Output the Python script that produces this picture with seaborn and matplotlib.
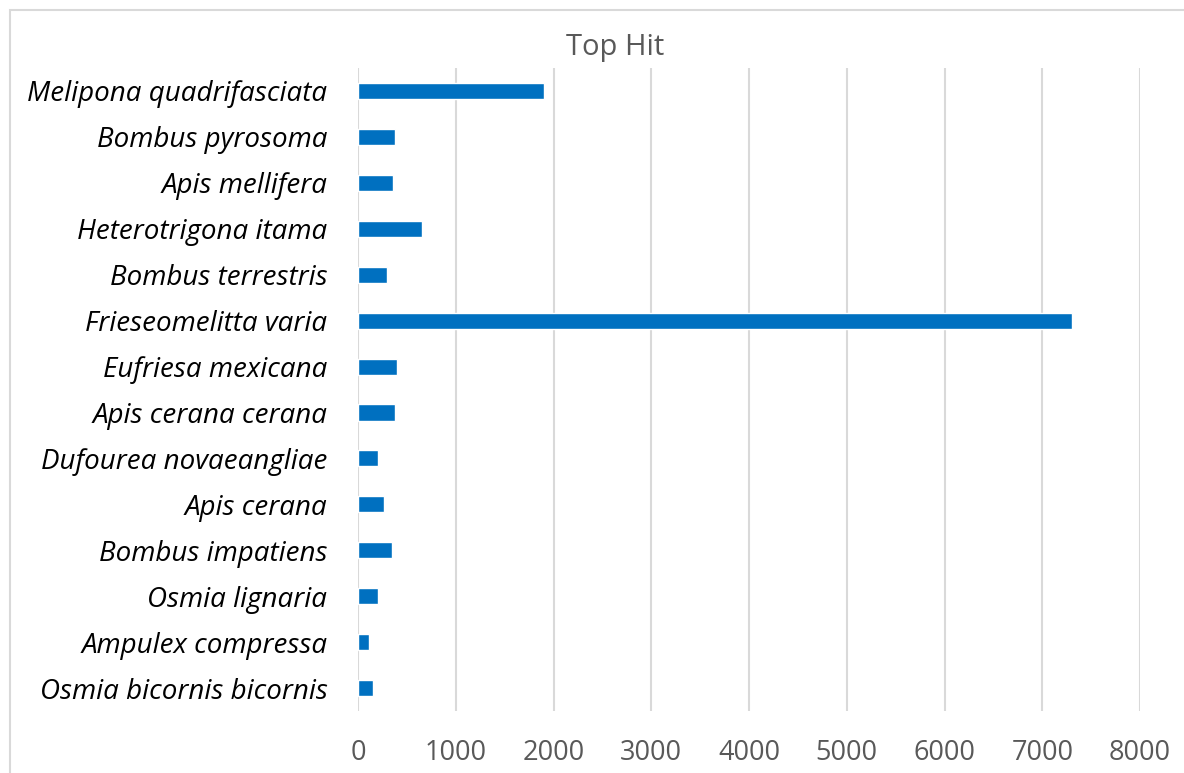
import matplotlib
matplotlib.use("Agg")
import matplotlib.pyplot as plt
import seaborn as sns
import pandas as pd
from matplotlib.patches import Rectangle

species = [
    "Melipona quadrifasciata",
    "Bombus pyrosoma",
    "Apis mellifera",
    "Heterotrigona itama",
    "Bombus terrestris",
    "Frieseomelitta varia",
    "Eufriesa mexicana",
    "Apis cerana cerana",
    "Dufourea novaeangliae",
    "Apis cerana",
    "Bombus impatiens",
    "Osmia lignaria",
    "Ampulex compressa",
    "Osmia bicornis bicornis",
]
hits = [1900, 380, 360, 650, 295, 7300, 400, 378, 200, 268, 348, 200, 108, 150]
x_ticks = [0, 1000, 2000, 3000, 4000, 5000, 6000, 7000, 8000]

df = pd.DataFrame({"species": species, "hits": hits})

sns.set_theme(style="white")
plt.rcParams["font.family"] = ["Open Sans", "DejaVu Sans"]

fig = plt.figure(figsize=(11.84, 7.73), dpi=100)
ax = fig.add_axes([0.3024, 0.0802, 0.6605, 0.8318])

sns.barplot(data=df, x="hits", y="species", orient="h", color="#0070C0",
            saturation=1, width=0.35, ax=ax)

ax.set_xlim(0, 8000)
ax.set_xticks(x_ticks)
ax.set_xticklabels([str(t) for t in x_ticks])
ax.xaxis.grid(True, color="#D9D9D9", linewidth=1.5)
ax.set_axisbelow(True)
for s in ax.spines.values():
    s.set_visible(False)
ax.set_xlabel("")
ax.set_ylabel("")
ax.tick_params(axis="x", labelsize=19.5, labelcolor="#595959", length=0, pad=20)
ax.tick_params(axis="y", labelsize=20, labelcolor="#000000", length=0, pad=22)
for lbl in ax.get_yticklabels():
    lbl.set_fontstyle("italic")

fig.text(615 / 1184, 1 - 48 / 773, "Top Hit", ha="center", va="center",
         fontsize=21, color="#595959")

fig.patches.append(Rectangle((10 / 1184, -0.1), 1.2, 1 - 10 / 773 + 0.1,
                             transform=fig.transFigure, fill=False,
                             edgecolor="#D9D9D9", linewidth=1.5))

fig.savefig("out.png", dpi=100)
